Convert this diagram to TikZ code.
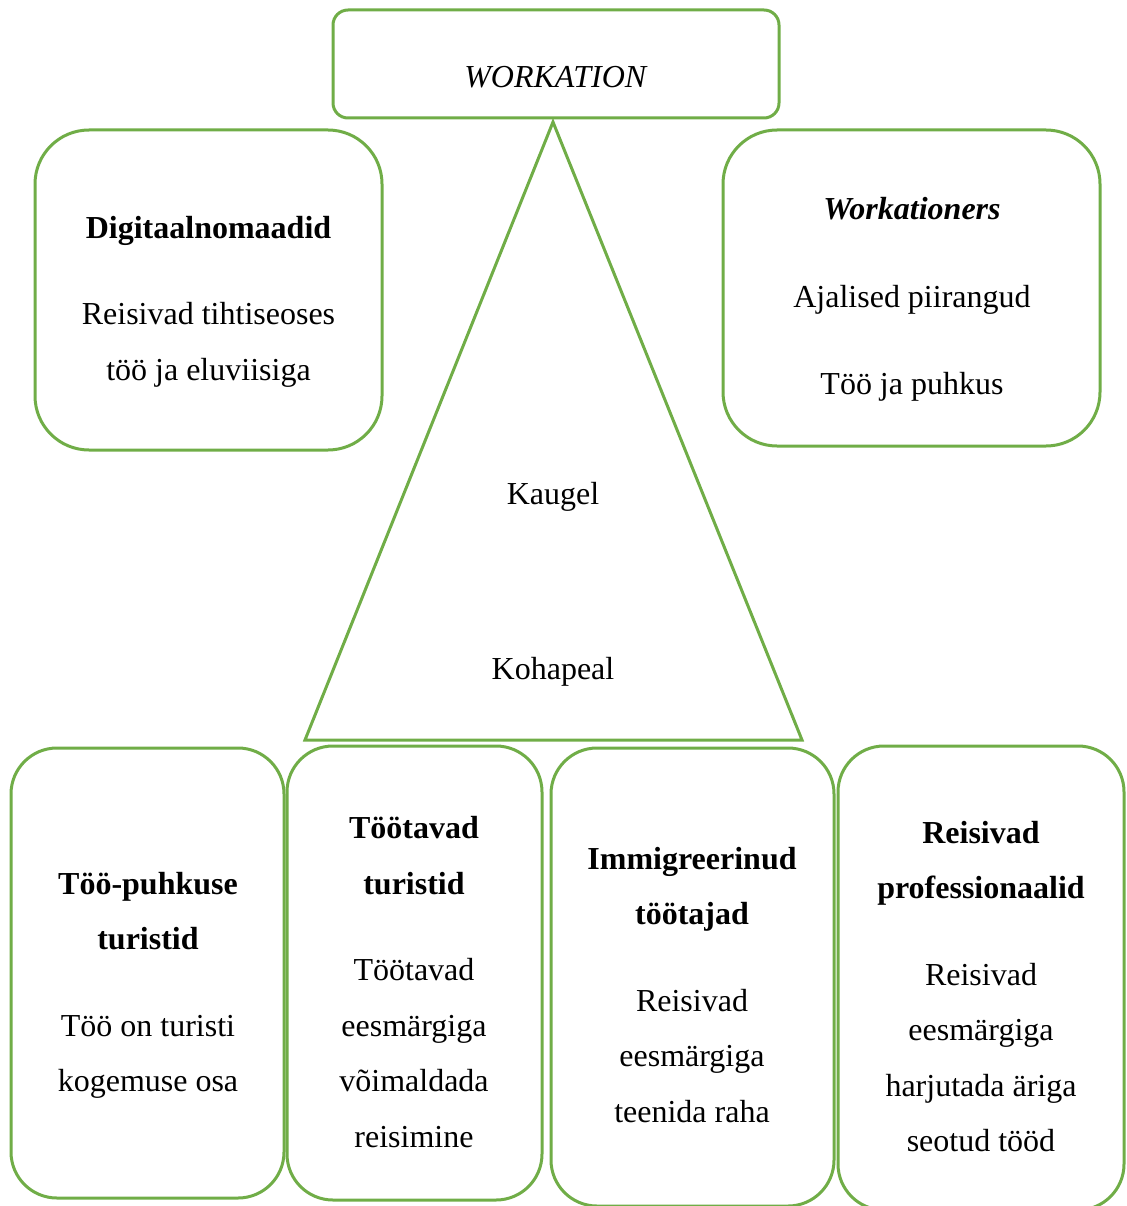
\documentclass[tikz,border=0pt]{standalone}
\usepackage{fontspec}
\setmainfont{Liberation Serif}
\definecolor{grn}{HTML}{70AD47}
\begin{document}
\begin{tikzpicture}[x=1pt,y=-1pt,
  box/.style={draw=grn, line width=3pt, fill=white, inner sep=0pt},
  bigbox/.style={box, rounded corners=54pt},
  lowbox/.style={box, rounded corners=46pt},
  txt/.style={font=\fontsize{32}{55.5}\selectfont, align=center, inner sep=0pt}]
\useasboundingbox (0,0) rectangle (1126,1206);
% top box
\node[box, rounded corners=15pt, minimum width=446pt, minimum height=108pt] (wk) at (556,64) {};
\node[txt] (wkt) at (556,77) {\textit{WORKATION}};
% triangle
\coordinate (apex) at (553,122);
\coordinate (bl) at (305,740);
\coordinate (br) at (802,740);
\draw[grn, line width=3pt, line join=miter] (apex) -- (br) -- (bl) -- cycle;
\node[txt] (kaugel) at (553,497) {Kaugel};
\node[txt] (kohapeal) at (553,672) {Kohapeal};
% middle boxes
\node[bigbox, minimum width=347pt, minimum height=320pt] (dn) at (208.5,290) {};
\node[txt] (dnt) at (208.5,302) {\textbf{Digitaalnomaadid}\\[30.5pt] Reisivad tihtiseoses\\ töö ja eluviisiga};
\node[bigbox, minimum width=377pt, minimum height=316pt] (wr) at (911.5,288) {};
\node[txt] (wrt) at (912,299.5) {\textbf{\textit{Workationers}}\\[32pt] Ajalised piirangud\\[32pt] Töö ja puhkus};
% bottom boxes
\node[lowbox, minimum width=273pt, minimum height=450pt] (b1) at (147.5,973) {};
\node[txt] (b1t) at (148,985.5) {\textbf{Töö-puhkuse}\\ \textbf{turistid}\\[31pt] Töö on turisti\\ kogemuse osa};
\node[lowbox, minimum width=255pt, minimum height=454pt] (b2) at (414.5,973) {};
\node[txt] (b2t) at (414,982) {\textbf{Töötavad}\\ \textbf{turistid}\\[31pt] Töötavad\\ eesmärgiga\\ võimaldada\\ reisimine};
\node[lowbox, minimum width=283pt, minimum height=458pt] (b3) at (692.5,977) {};
\node[txt] (b3t) at (692,985) {\textbf{Immigreerinud}\\ \textbf{töötajad}\\[31pt] Reisivad\\ eesmärgiga\\ teenida raha};
\node[lowbox, minimum width=286pt, minimum height=464pt] (b4) at (981,978) {};
\node[txt] (b4t) at (981,986.5) {\textbf{Reisivad}\\ \textbf{professionaalid}\\[31pt] Reisivad\\ eesmärgiga\\ harjutada äriga\\ seotud tööd};
\end{tikzpicture}
\end{document}
